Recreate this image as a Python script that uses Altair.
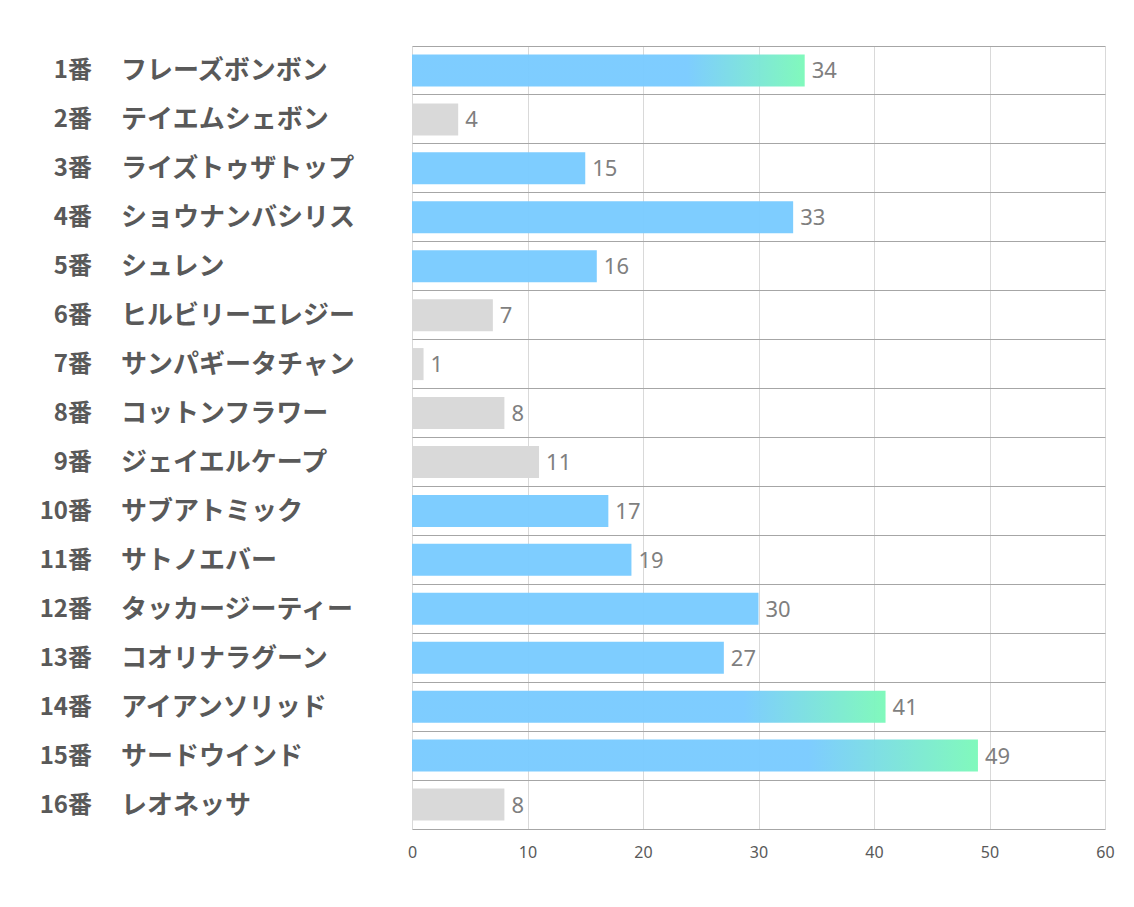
import altair as alt
import pandas as pd

numbers = ["1番", "2番", "3番", "4番", "5番", "6番", "7番", "8番",
           "9番", "10番", "11番", "12番", "13番", "14番", "15番", "16番"]
names = ["フレーズボンボン", "テイエムシェボン", "ライズトゥザトップ", "ショウナンバシリス",
         "シュレン", "ヒルビリーエレジー", "サンパギータチャン", "コットンフラワー",
         "ジェイエルケープ", "サブアトミック", "サトノエバー", "タッカージーティー",
         "コオリナラグーン", "アイアンソリッド", "サードウインド", "レオネッサ"]
values = [34, 4, 15, 33, 16, 7, 1, 8, 11, 17, 19, 30, 27, 41, 49, 8]
groups = ["grad", "grey", "blue", "blue", "blue", "grey", "grey", "grey",
          "grey", "blue", "blue", "blue", "blue", "grad", "grad", "grey"]
x_ticks = [0, 10, 20, 30, 40, 50, 60]

df = pd.DataFrame({"num": numbers, "name": names, "value": values, "group": groups})

BLUE = "#7ACBFF"
GREEN = "#7DF9BA"
GREY = "#D9D9D9"

y_enc = alt.Y("num:N", sort=numbers,
              scale=alt.Scale(paddingInner=0, paddingOuter=0),
              axis=alt.Axis(labels=False, ticks=False, domain=False, grid=True,
                            gridColor="#A6A6A6", gridWidth=1, bandPosition=0, title=None))
x_enc = alt.X("value:Q", scale=alt.Scale(domain=[0, 60], nice=False),
              axis=alt.Axis(values=x_ticks, grid=True, gridColor="#D9D9D9", ticks=False,
                            domainColor="#A6A6A6", labelColor="#595959", labelFontSize=16,
                            labelFont="Noto Sans", labelPadding=15, title=None,
                            labelFlush=False))

base = alt.Chart(df)

grey_bars = base.transform_filter(alt.datum.group == "grey").mark_bar(
    color=GREY, height=alt.RelativeBandSize(0.655)
).encode(x=x_enc, y=y_enc)

blue_bars = base.transform_filter(alt.datum.group == "blue").mark_bar(
    color=BLUE, opacity=0.97, height=alt.RelativeBandSize(0.655)
).encode(x="value:Q", y=alt.Y("num:N", sort=numbers))

grad_bars = base.transform_filter(alt.datum.group == "grad").mark_bar(
    color=alt.Gradient(
        gradient="linear",
        stops=[alt.GradientStop(color=BLUE, offset=0),
               alt.GradientStop(color=BLUE, offset=0.7),
               alt.GradientStop(color=GREEN, offset=1)],
        x1=0, x2=1, y1=0, y2=0),
    opacity=0.97, height=alt.RelativeBandSize(0.655)
).encode(x="value:Q", y=alt.Y("num:N", sort=numbers))

value_labels = base.mark_text(
    align="left", baseline="middle", dx=7, dy=1, fontSize=22, font="Noto Sans", color="#7F7F7F"
).encode(x="value:Q", y=alt.Y("num:N", sort=numbers), text="value:Q")

num_labels = base.mark_text(
    align="right", baseline="middle", dy=1, fontSize=24, fontWeight="bold",
    font="Noto Sans CJK JP", color="#595959"
).encode(x=alt.value(-320), y=alt.Y("num:N", sort=numbers), text="num:N")

name_labels = base.mark_text(
    align="left", baseline="middle", dy=1, fontSize=26, fontWeight="bold",
    font="Noto Sans CJK JP", color="#595959"
).encode(x=alt.value(-291), y=alt.Y("num:N", sort=numbers), text="name:N")

chart = alt.layer(grey_bars, blue_bars, grad_bars, value_labels, num_labels, name_labels).properties(
    width=693, height=783,
    padding={"left": 412, "top": 46, "right": 29, "bottom": 78},
    autosize=alt.AutoSizeParams(type="none"),
    background="white"
).configure_view(stroke=None)

chart.save("out.html", embed_options={"renderer": "svg", "actions": False})
